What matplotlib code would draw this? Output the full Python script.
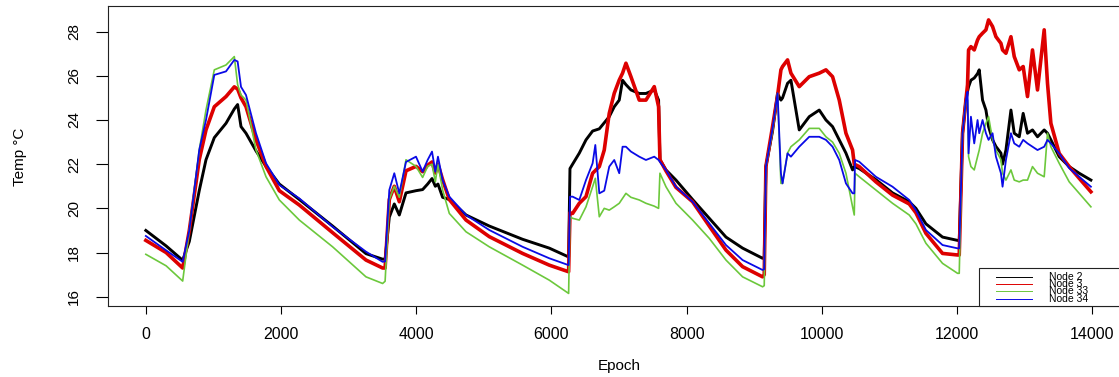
import matplotlib
matplotlib.use("Agg")
import matplotlib.pyplot as plt
from matplotlib.lines import Line2D
from matplotlib.patches import Rectangle

plt.rcParams["font.family"] = ["Liberation Sans", "DejaVu Sans"]

# ---- data -------------------------------------------------------------
EP_N2 = [0, 300, 545, 643, 790, 890, 1013, 1186, 1309, 1358, 1408, 1482, 1630,
         1778, 1975, 2271, 2763, 3257, 3503, 3540, 3602, 3676, 3750, 3849, 3997,
         4095, 4169, 4234, 4283, 4322, 4391, 4490, 4737, 5081, 5574, 5969, 6255,
         6275, 6314, 6413, 6512, 6610, 6709, 6856, 6930, 7004, 7053, 7103, 7177,
         7300, 7399, 7522, 7586, 7606, 7695, 7843, 8089, 8336, 8583, 8829, 9125,
         9149, 9174, 9272, 9346, 9396, 9420, 9494, 9544, 9667, 9815, 9963, 10062,
         10160, 10259, 10358, 10456, 10481, 10555, 10801, 11047, 11294, 11393,
         11541, 11787, 12009, 12034, 12083, 12133, 12157, 12172, 12207, 12256,
         12305, 12330, 12379, 12429, 12468, 12527, 12577, 12651, 12675, 12725,
         12799, 12848, 12922, 12980, 13044, 13118, 13192, 13291, 13340, 13390,
         13513, 13661, 13809, 13982]
T_N2 = [19.0, 18.3, 17.65, 18.5, 20.8, 22.2, 23.2, 23.85, 24.5, 24.7, 23.7, 23.4,
        22.6, 21.9, 21.1, 20.4, 19.2, 17.95, 17.7, 17.7, 19.6, 20.2, 19.7, 20.7,
        20.8, 20.85, 21.1, 21.35, 21.0, 21.1, 20.5, 20.4, 19.7, 19.2, 18.6, 18.2,
        17.8, 21.8, 22.0, 22.5, 23.1, 23.5, 23.6, 24.15, 24.6, 24.9, 25.8, 25.6,
        25.36, 25.2, 25.2, 25.36, 24.9, 22.2, 21.74, 21.28, 20.4, 19.55, 18.7,
        18.2, 17.74, 17.8, 21.9, 23.5, 25.2, 24.9, 25.0, 25.66, 25.8, 23.55,
        24.15, 24.45, 24.0, 23.7, 23.1, 22.5, 21.74, 21.9, 21.8, 21.3, 20.7,
        20.3, 20.0, 19.3, 18.7, 18.55, 18.55, 23.4, 24.9, 25.3, 25.5, 25.8,
        25.9, 26.1, 26.27, 24.9, 24.45, 23.7, 23.1, 22.8, 22.5, 22.0, 22.64,
        24.45, 23.4, 23.24, 24.3, 23.4, 23.55, 23.24, 23.55, 23.4, 23.1, 22.34,
        21.89, 21.59, 21.28]

EP_N3 = [0, 300, 545, 643, 790, 890, 1013, 1186, 1309, 1358, 1408, 1482, 1630,
         1778, 1975, 2271, 2763, 3257, 3503, 3540, 3602, 3676, 3750, 3849, 3997,
         4095, 4169, 4234, 4283, 4322, 4391, 4490, 4737, 5081, 5574, 5969, 6255,
         6275, 6314, 6413, 6512, 6610, 6709, 6782, 6856, 6930, 7004, 7053, 7103,
         7177, 7300, 7399, 7522, 7586, 7606, 7695, 7843, 8089, 8336, 8583, 8829,
         9125, 9149, 9174, 9272, 9346, 9396, 9420, 9494, 9544, 9667, 9815, 9963,
         10062, 10160, 10259, 10358, 10456, 10481, 10555, 10801, 11047, 11294,
         11393, 11541, 11787, 12009, 12034, 12083, 12133, 12157, 12172, 12207,
         12256, 12305, 12330, 12379, 12429, 12468, 12527, 12577, 12651, 12675,
         12725, 12799, 12848, 12922, 12980, 13044, 13118, 13192, 13291, 13340,
         13390, 13513, 13661, 13809, 13982]
T_N3 = [18.55, 18.0, 17.3, 19.0, 22.2, 23.55, 24.6, 25.06, 25.5, 25.4, 25.0,
        24.6, 23.1, 21.9, 20.8, 20.15, 18.9, 17.66, 17.3, 17.3, 20.4, 21.0, 20.3,
        21.7, 21.9, 21.66, 21.95, 22.1, 21.6, 22.0, 21.3, 20.4, 19.47, 18.72,
        17.96, 17.43, 17.13, 19.8, 19.77, 20.23, 20.53, 21.59, 21.89, 22.64,
        24.3, 25.21, 25.81, 26.12, 26.57, 25.96, 24.9, 24.9, 25.51, 24.6, 22.2,
        21.7, 20.95, 20.3, 19.2, 18.11, 17.36, 16.9, 17.0, 21.9, 23.7, 25.1,
        26.27, 26.42, 26.72, 26.12, 25.51, 25.96, 26.12, 26.27, 25.96, 24.9,
        23.4, 22.64, 22.0, 21.89, 21.2, 20.6, 20.2, 19.8, 18.87, 17.96, 17.89,
        17.89, 23.4, 24.9, 25.6, 27.17, 27.32, 27.17, 27.62, 27.77, 27.93,
        28.08, 28.53, 28.23, 27.77, 27.47, 27.17, 27.02, 27.77, 26.87, 26.27,
        26.42, 25.06, 27.17, 25.36, 28.08, 25.66, 23.85, 22.49, 21.89, 21.36,
        20.75]

EP_N33 = [0, 300, 545, 643, 790, 890, 1013, 1186, 1309, 1358, 1408, 1482, 1630,
          1778, 1975, 2271, 2763, 3257, 3503, 3540, 3602, 3676, 3750, 3849, 3997,
          4095, 4169, 4234, 4283, 4322, 4391, 4490, 4737, 5081, 5574, 5969, 6255,
          6275, 6314, 6413, 6512, 6610, 6650, 6709, 6782, 6856, 6930, 7004, 7103,
          7177, 7300, 7399, 7522, 7586, 7606, 7695, 7843, 8089, 8336, 8583, 8829,
          9125, 9149, 9174, 9272, 9346, 9396, 9420, 9494, 9544, 9667, 9815, 9963,
          10062, 10160, 10259, 10358, 10456, 10481, 10493, 10555, 10801, 11047,
          11294, 11393, 11541, 11787, 12009, 12034, 12083, 12133, 12157, 12172,
          12207, 12256, 12305, 12330, 12379, 12429, 12468, 12527, 12577, 12651,
          12675, 12725, 12799, 12848, 12922, 12980, 13044, 13118, 13192, 13291,
          13340, 13390, 13513, 13661, 13809, 13982]
T_N33 = [17.92, 17.4, 16.71, 19.0, 22.64, 24.45, 26.27, 26.49, 26.87, 25.6,
         25.13, 24.9, 22.64, 21.43, 20.38, 19.47, 18.26, 16.9, 16.6, 16.7, 20.4,
         21.0, 20.5, 22.2, 21.9, 21.4, 21.9, 22.0, 21.2, 22.0, 20.83, 19.77,
         18.94, 18.26, 17.43, 16.75, 16.15, 19.62, 19.55, 19.47, 20.07, 20.98,
         21.36, 19.62, 20.0, 19.92, 20.07, 20.23, 20.68, 20.5, 20.38, 20.23,
         20.1, 20.0, 21.59, 20.98, 20.23, 19.47, 18.64, 17.66, 16.9, 16.45, 16.5,
         21.9, 23.5, 25.2, 21.13, 21.13, 22.5, 22.79, 23.1, 23.62, 23.62, 23.24,
         23.0, 22.49, 21.59, 20.07, 19.7, 21.59, 21.43, 20.83, 20.23, 19.7, 19.3,
         18.42, 17.51, 17.06, 17.06, 23.4, 24.9, 24.9, 22.34, 21.89, 21.74,
         22.34, 22.64, 23.4, 23.85, 24.15, 23.1, 22.64, 22.2, 21.59, 21.28,
         21.74, 21.28, 21.2, 21.28, 21.28, 21.89, 21.59, 21.43, 23.4, 22.79,
         22.04, 21.2, 20.68, 20.07]

EP_N34 = [0, 300, 545, 643, 790, 890, 1013, 1186, 1309, 1358, 1408, 1482, 1630,
          1778, 1975, 2271, 2763, 3257, 3503, 3540, 3602, 3676, 3750, 3849, 3997,
          4095, 4169, 4234, 4283, 4322, 4391, 4490, 4737, 5081, 5574, 5969, 6255,
          6275, 6314, 6413, 6512, 6610, 6650, 6709, 6782, 6856, 6930, 7004, 7053,
          7103, 7177, 7300, 7399, 7522, 7586, 7606, 7695, 7843, 8089, 8336, 8583,
          8829, 9125, 9149, 9174, 9272, 9346, 9396, 9420, 9494, 9544, 9667, 9815,
          9963, 10062, 10160, 10259, 10358, 10456, 10481, 10493, 10555, 10801,
          11047, 11294, 11393, 11541, 11787, 12009, 12034, 12083, 12133, 12157,
          12172, 12207, 12256, 12305, 12330, 12379, 12429, 12468, 12527, 12577,
          12651, 12675, 12725, 12799, 12848, 12922, 12980, 13044, 13118, 13192,
          13291, 13340, 13390, 13513, 13661, 13809, 13982]
T_N34 = [18.75, 18.1, 17.58, 19.0, 22.64, 24.0, 26.04, 26.2, 26.72, 26.65, 25.5,
         25.13, 23.4, 22.04, 21.06, 20.45, 19.17, 18.04, 17.58, 17.6, 20.83,
         21.59, 20.68, 22.1, 22.34, 21.66, 22.19, 22.57, 21.66, 22.34, 21.28,
         20.53, 19.7, 19.02, 18.26, 17.74, 17.43, 20.53, 20.53, 20.38, 21.28,
         22.04, 22.87, 20.68, 20.8, 21.89, 22.19, 21.59, 22.79, 22.79, 22.57,
         22.34, 22.19, 22.34, 22.19, 22.1, 21.74, 20.98, 20.3, 19.32, 18.34,
         17.66, 17.21, 17.25, 21.9, 23.6, 25.21, 21.59, 21.13, 22.49, 22.34,
         22.79, 23.24, 23.24, 23.1, 22.79, 22.19, 21.13, 20.68, 20.68, 22.19,
         22.11, 21.43, 20.98, 20.38, 19.92, 19.02, 18.34, 18.19, 18.19, 23.4,
         24.9, 25.28, 22.49, 24.15, 22.94, 24.0, 23.4, 24.0, 23.4, 23.1, 23.4,
         22.34, 21.59, 20.98, 22.19, 23.4, 22.94, 22.79, 23.1, 22.94, 22.79,
         22.64, 22.79, 23.1, 22.94, 22.49, 21.82, 21.43, 20.98]

LABELS = ["Node 2", "Node 3", "Node 33", "Node 34"]
COLS = ["#000000", "#DD0000", "#6CC83C", "#0A0AE6"]
LWS = [2.1, 2.6, 1.2, 1.3]
X_TICKS = [0, 2000, 4000, 6000, 8000, 10000, 12000, 14000]
Y_TICKS = [16, 18, 20, 22, 24, 26, 28]

# ---- figure ------------------------------------------------------------
fig = plt.figure(figsize=(11.19, 3.77), dpi=100)
ax = fig.add_axes([0.0965, 0.1883, 0.9133, 0.7958])

series = [(EP_N2, T_N2), (EP_N3, T_N3), (EP_N33, T_N33), (EP_N34, T_N34)]
for (ep, t), c, lw in zip(series, COLS, LWS):
    ax.plot(ep, t, color=c, lw=lw, solid_joinstyle="round")

ax.set_xlim(-560, 14560)
ax.set_ylim(15.58, 29.16)
ax.set_xticks(X_TICKS)
ax.set_yticks(Y_TICKS)
ax.set_yticklabels([str(v) for v in Y_TICKS], rotation=90, va="center")
ax.tick_params(axis="x", direction="out", length=5.8, width=0.8, pad=9, labelsize=11.5)
ax.tick_params(axis="y", direction="out", length=8.6, width=0.8, pad=11, labelsize=11)
for sp in ax.spines.values():
    sp.set_linewidth(0.8)
    sp.set_color("#222222")

ax.set_xlabel("Epoch", fontsize=11)
ax.xaxis.label.set_va("center")
ax.xaxis.set_label_coords(0.5, -0.2)
ax.set_ylabel("Temp °C", fontsize=11)
ax.yaxis.label.set_va("center")
ax.yaxis.set_label_coords(-0.0861, 0.497)

# ---- legend (R style, squeezed rows) ----------------------------------
ax.add_patch(Rectangle((0.8523, 0.0), 0.2, 0.1267, transform=ax.transAxes,
                       facecolor="white", edgecolor="#222222", lw=0.8,
                       clip_on=False, zorder=5))
rows = [0.0967, 0.0733, 0.05, 0.0243]
for lab, c, yy in zip(LABELS, COLS, rows):
    ax.add_line(Line2D([0.869, 0.904], [yy, yy], transform=ax.transAxes,
                       color=c, lw=0.7, zorder=6, clip_on=False))
    ax.text(0.9207, yy, lab, transform=ax.transAxes, fontsize=7.5,
            va="center", ha="left", zorder=6)

fig.savefig("out.png", dpi=100)
